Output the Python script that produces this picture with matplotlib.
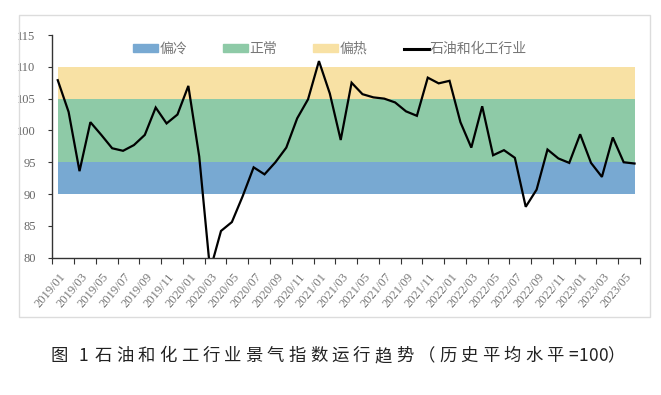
import numpy as np
import matplotlib.pyplot as plt
from matplotlib.patches import Patch, Rectangle
from matplotlib.lines import Line2D

plt.rcParams['font.family'] = ['Noto Sans CJK SC', 'DejaVu Sans']

# données : indice mensuel 2019/01 - 2023/06
mois = [f"{a}/{m:02d}" for a in range(2019, 2024) for m in range(1, 13)][:54]
indice = [107.9, 102.9, 93.6, 101.3, 99.3, 97.2, 96.8, 97.7, 99.3, 103.6,
          101.1, 102.5, 107.0, 95.9, 78.0, 84.2, 85.6, 89.7, 94.2, 93.1,
          95.0, 97.3, 101.9, 104.9, 110.9, 105.8, 98.5, 107.5, 105.7, 105.2,
          105.0, 104.4, 103.0, 102.3, 108.3, 107.4, 107.8, 101.3, 97.3, 103.8,
          96.1, 96.9, 95.7, 88.0, 90.7, 97.0, 95.6, 94.9, 99.4, 94.9,
          92.7, 98.9, 95.0, 94.8]

# zones
zones = ["偏冷", "正常", "偏热"]
bornes = [(90, 95), (95, 105), (105, 110)]
couleurs = ["#78a9d2", "#8ecaa7", "#f8e1a4"]
serie = "石油和化工行业"
titre = "图 1 石油和化工行业景气指数运行趋势（历史平均水平=100）"

x = np.arange(len(indice))

W, H = 661, 395
fig = plt.figure(figsize=(W / 100, H / 100), dpi=100)
fig.patch.set_facecolor('white')

# cadre gris autour du graphique
fig.add_artist(Rectangle((19 / W, 1 - 317 / H), 631 / W, 302 / H,
                         transform=fig.transFigure, fill=False,
                         edgecolor='#dcdcdc', lw=1.0))

ax = fig.add_axes([52.3 / W, 1 - 257.7 / H, 587.7 / W, 222.7 / H])

for (b0, b1), c in zip(bornes, couleurs):
    ax.fill_between(x, b0, b1, color=c, lw=0)
ax.plot(x, indice, color='black', lw=1.6, solid_joinstyle='miter')

ax.set_xlim(-0.5, len(indice) - 0.5)
ax.set_ylim(80, 115)
ax.set_yticks(np.arange(80, 116, 5))

for s in ['top', 'right']:
    ax.spines[s].set_visible(False)
for s in ['left', 'bottom']:
    ax.spines[s].set_color('#333333')
    ax.spines[s].set_linewidth(1.0)

ax.tick_params(axis='y', length=3, pad=9, colors='#333333', labelcolor='#666666',
               labelsize=9)
ax.set_yticklabels([str(v) for v in range(80, 116, 5)], family='Liberation Serif')

# graduations entre catégories, étiquettes tous les 2 mois
ax.set_xticks(np.arange(-0.5, len(indice), 2))
ax.set_xticklabels([])
ax.tick_params(axis='x', length=4, colors='#333333')
for i in range(0, len(indice), 2):
    ax.text(i + 0.1, 77.9, mois[i], rotation=50, ha='right', va='top',
            rotation_mode='anchor', fontsize=9, color='#777777',
            family='Liberation Serif', clip_on=False)

handles = [Patch(color=c) for c in couleurs] + [Line2D([], [], color='black', lw=2.2)]
leg = fig.legend(handles, zones + [serie], loc='center', ncol=4,
                 bbox_to_anchor=(330 / W, 1 - 49 / H), frameon=False, fontsize=10,
                 handlelength=1.8, handleheight=0.45, handletextpad=0.1,
                 columnspacing=2.6)
for t in leg.get_texts():
    t.set_color('#777777')

# légende de la figure, caractère par caractère (espacement large)
pas = 21.5
avance = []
for ch in titre:
    if ch == ' ':
        avance.append(6.5)
    elif ch.isdigit():
        avance.append(9.5)
    elif ch == '=':
        avance.append(11.0)
    else:
        avance.append(pas)
pos = 51.0
for ch, a in zip(titre, avance):
    if ch != ' ':
        fig.text(pos / W, 1 - 356 / H, ch, ha='left', va='center',
                 fontsize=12.5, color='#222222')
    pos += a

fig.savefig("out.png", dpi=100)
